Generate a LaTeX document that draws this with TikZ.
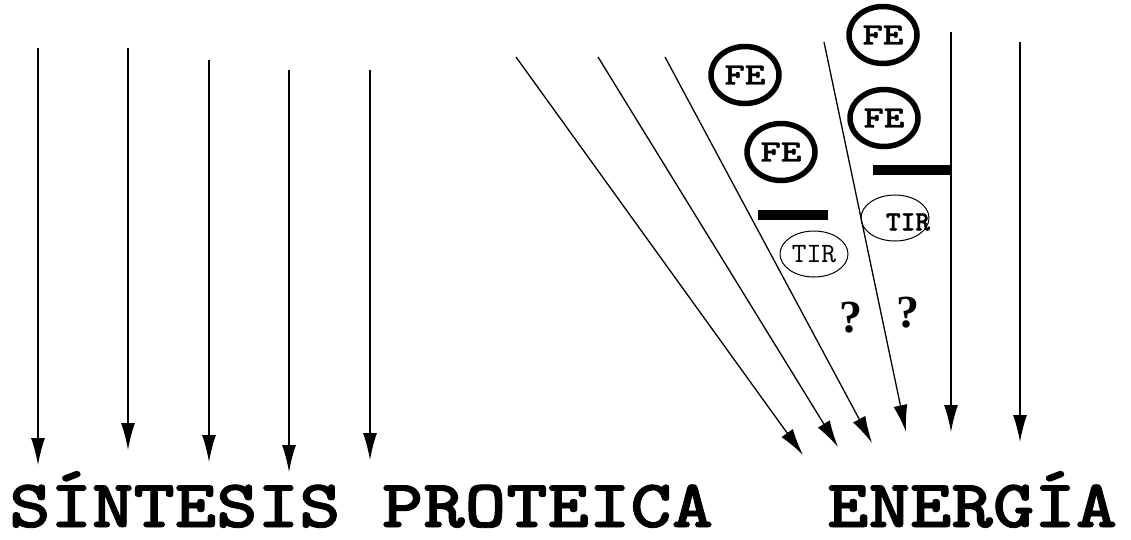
\documentclass[tikz,border=0pt]{standalone}
\usepackage{fontspec}
\newfontfamily\qfont{Liberation Serif}
\newfontfamily\heavymono{lmmonolt10-bold.otf}[FakeBold=1.2]
\newfontfamily\plainmono{lmmono10-regular.otf}
\usetikzlibrary{arrows.meta,shapes.geometric}
\begin{document}
\begin{tikzpicture}[x=1pt,y=-1pt,
  arr/.style={line width=1.3pt,-{Latex[length=27pt,width=14pt]}},
  fering/.style={ellipse, draw, line width=5.5pt, minimum width=68pt, minimum height=57pt, inner sep=0pt,
     font=\heavymono\fontsize{31}{31}\selectfont},
  tirring/.style={ellipse, draw, line width=1pt, minimum width=68pt, minimum height=46pt, inner sep=0pt},
  bar/.style={line width=10pt},
  qmark/.style={font=\qfont\bfseries\fontsize{46}{46}\selectfont, inner sep=0pt},
  bigtext/.style={anchor=base west, inner sep=0pt}]
\useasboundingbox (0,0) rectangle (1131,539);
% left group
\coordinate (a1s) at (38,48);  \coordinate (a1e) at (38,465);
\coordinate (a2s) at (128,48); \coordinate (a2e) at (128,450);
\coordinate (a3s) at (209,60); \coordinate (a3e) at (209,462);
\coordinate (a4s) at (289,70); \coordinate (a4e) at (289,472);
\coordinate (a5s) at (370,70); \coordinate (a5e) at (370,460);
\foreach \i in {1,...,5} \draw[arr] (a\i s) -- (a\i e);
% right group
\coordinate (b1s) at (516,57);  \coordinate (b1e) at (803,455);
\coordinate (b2s) at (598,57);  \coordinate (b2e) at (838,447);
\coordinate (b3s) at (665,57);  \coordinate (b3e) at (872,443);
\coordinate (b4s) at (824,42);  \coordinate (b4e) at (906,432);
\coordinate (b5s) at (951,32);  \coordinate (b5e) at (951,432);
\coordinate (b6s) at (1020,42); \coordinate (b6e) at (1020,442);
\foreach \i in {1,...,6} \draw[arr] (b\i s) -- (b\i e);
% FE
\node[fering] (fe1) at (745,75) {\scalebox{1.25}[1]{FE}};
\node[fering] (fe2) at (781,152) {\scalebox{1.25}[1]{FE}};
\node[fering] (fe3) at (883,35) {\scalebox{1.25}[1]{FE}};
\node[fering] (fe4) at (884,118) {\scalebox{1.25}[1]{FE}};
% bars
\coordinate (r1a) at (758,215); \coordinate (r1b) at (828,215);
\coordinate (r2a) at (873,170); \coordinate (r2b) at (952,170);
\draw[bar] (r1a) -- (r1b);
\draw[bar] (r2a) -- (r2b);
% TIR
\node[tirring, font=\plainmono\fontsize{28}{28}\selectfont] (tir1) at (814,254) {TIR};
\node[tirring] (tir2) at (895,218) {};
\node[font=\heavymono\fontsize{28}{28}\selectfont, inner sep=0pt] (tir2t) at (908,222) {TIR};
% question marks
\node[qmark] (q1) at (851,318) {?};
\node[qmark] (q2) at (908,313) {?};
% labels
\node[bigtext] (sp) at (9,527) {\scalebox{1.16}[1]{\heavymono\fontsize{68}{68}\selectfont SÍNTESIS PROTEICA}};
\node[bigtext] (en) at (827,527) {\scalebox{1.16}[1]{\heavymono\fontsize{68}{68}\selectfont ENERGÍA}};
\end{tikzpicture}
\end{document}
